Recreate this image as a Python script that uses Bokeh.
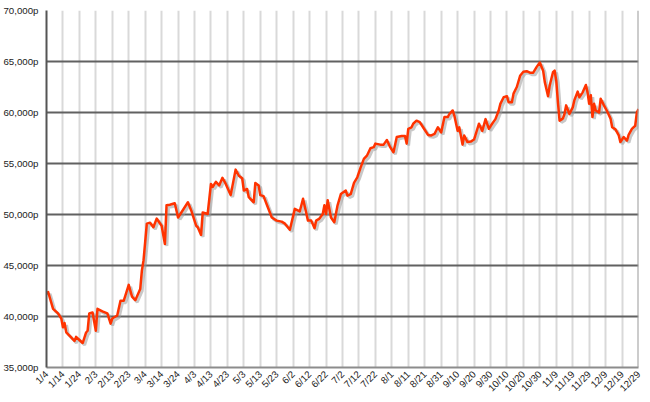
from bokeh.plotting import figure
from bokeh.models import ColumnDataSource, FixedTicker, Range1d, Span
from bokeh.transform import dodge
from bokeh.embed import file_html
from bokeh.resources import INLINE

# day offset from 1/4 and price (p)
days = [0, 1, 4, 7, 9, 10, 11, 12, 15, 17, 18, 20, 22, 24, 25, 26, 28, 30, 31, 34,
        37, 39, 40, 43, 45, 47, 50, 52, 54, 57, 58, 59, 61, 63, 65, 67, 70, 72, 73, 75,
        78, 80, 82, 86, 88, 91, 92, 94, 95, 98, 100, 101, 103, 105, 107, 109, 112, 115, 117, 119,
        120, 122, 123, 126, 127, 129, 130, 132, 134, 137, 140, 143, 145, 148, 151, 154, 156, 159, 161, 163,
        164, 166, 168, 169, 170, 171, 173, 175, 177, 179, 182, 183, 185, 187, 189, 191, 193, 195, 197, 199,
        200, 203, 205, 207, 209, 211, 213, 216, 218, 219, 220, 222, 223, 225, 227, 229, 232, 234, 236, 238,
        240, 242, 244, 245, 247, 248, 250, 251, 253, 254, 256, 258, 260, 263, 265, 267, 269, 271, 273, 275,
        276, 278, 280, 281, 283, 284, 286, 288, 290, 292, 294, 296, 298, 300, 302, 303, 305, 306, 308, 309,
        310, 311, 312, 314, 315, 316, 318, 320, 321, 323, 324, 326, 328, 329, 330, 331, 332, 333, 334, 336,
        337, 339, 341, 343, 344, 346, 348, 349, 351, 353, 354, 356, 358, 359, 360]
prices = [42200, 42400, 40750, 40300, 39800, 38950, 39350, 38450, 37950, 37600, 38000, 37700, 37400, 38400, 38600, 40300, 40400, 38600, 40750, 40500,
          40300, 39300, 39800, 40100, 41550, 41550, 43100, 41950, 41600, 42700, 44500, 45500, 49100, 49200, 48750, 49600, 48900, 47100, 50900, 50950,
          51100, 49700, 50200, 51200, 50400, 48900, 48750, 48000, 50200, 50050, 53000, 52700, 53200, 52850, 53600, 53000, 51900, 54400, 53800, 53550,
          52350, 52500, 51700, 51200, 53100, 52850, 51900, 51800, 50950, 49700, 49400, 49300, 49100, 48500, 50550, 50300, 51550, 49400, 49400, 48650,
          49400, 49600, 50050, 50900, 50050, 51400, 49700, 49250, 50900, 52000, 52350, 51850, 52000, 53100, 53650, 54600, 55450, 55800, 56500, 56600,
          56950, 56850, 56850, 57300, 56600, 56100, 57600, 57700, 57700, 56950, 58400, 58550, 58900, 59200, 59050, 58550, 57800, 57750, 57900, 58550,
          58050, 59550, 59550, 59850, 60200, 59700, 58200, 58550, 56850, 57750, 57100, 57150, 57350, 58900, 58200, 59350, 58400, 58900, 59350, 60200,
          60850, 61500, 61600, 61000, 61000, 61850, 62500, 63600, 64000, 64050, 63900, 63900, 64450, 64900, 64100, 63000, 61600, 62650, 63950, 64100,
          63100, 61000, 59200, 59400, 59850, 60700, 59850, 60500, 61200, 62050, 61500, 61950, 62700, 62000, 60850, 61700, 59550, 60850, 60200, 60000,
          61350, 60700, 60100, 59400, 58550, 58350, 57750, 57100, 57600, 57250, 57800, 58400, 58700, 60000, 60350]

x_ticks = list(range(0, 361, 10))
x_labels = ["1/4", "1/14", "1/24", "2/3", "2/13", "2/23", "3/4", "3/14", "3/24",
            "4/3", "4/13", "4/23", "5/3", "5/13", "5/23", "6/2", "6/12", "6/22",
            "7/2", "7/12", "7/22", "8/1", "8/11", "8/21", "8/31", "9/10", "9/20",
            "9/30", "10/10", "10/20", "10/30", "11/9", "11/19", "11/29", "12/9",
            "12/19", "12/29"]
y_ticks = [35000, 40000, 45000, 50000, 55000, 60000, 65000, 70000]
y_labels = ["35,000p", "40,000p", "45,000p", "50,000p", "55,000p", "60,000p", "65,000p", "70,000p"]

source = ColumnDataSource(dict(day=days, price=prices))

p = figure(width=650, height=402, output_backend="svg", toolbar_location=None,
           x_range=Range1d(0, 360), y_range=Range1d(35000, 70000),
           min_border_left=44, min_border_right=12, min_border_top=10, min_border_bottom=35,
           background_fill_color="white", border_fill_color="white")
p.outline_line_color = None

# axes
p.xaxis.ticker = FixedTicker(ticks=x_ticks)
p.xaxis.major_label_overrides = {t: l for t, l in zip(x_ticks, x_labels)}
p.xaxis.major_label_orientation = 0.785
p.xaxis.major_label_text_font = "Liberation Sans"
p.xaxis.major_label_text_font_size = "9.7px"
p.xaxis.major_label_text_color = "#222222"
p.xaxis.major_label_standoff = 5
p.xaxis.major_tick_out = 0
p.xaxis.major_tick_in = 0
p.xaxis.minor_tick_line_color = None
p.xaxis.axis_line_color = "#8c8c8c"
p.xaxis.axis_line_width = 2

p.yaxis.ticker = FixedTicker(ticks=y_ticks)
p.yaxis.major_label_overrides = {t: l for t, l in zip(y_ticks, y_labels)}
p.yaxis.major_label_text_font = "Liberation Sans"
p.yaxis.major_label_text_font_size = "9.7px"
p.yaxis.major_label_text_color = "#222222"
p.yaxis.major_label_standoff = 8
p.yaxis.major_tick_out = 0
p.yaxis.major_tick_in = 0
p.yaxis.minor_tick_line_color = None
p.yaxis.axis_line_color = "#555555"
p.yaxis.axis_line_width = 2

# grids
p.xgrid.grid_line_color = "#d9d9d9"
p.xgrid.grid_line_width = 2
p.ygrid.grid_line_color = "#616161"
p.ygrid.grid_line_width = 2

# right border
p.add_layout(Span(location=x_ticks[-1], dimension="height", line_color="#9a9a9a", line_width=2))

# shadow and line
p.line(x=dodge("day", 1.2), y=dodge("price", -190), source=source,
       line_color="#9a9a9a", line_alpha=0.55, line_width=3)
p.line(x="day", y="price", source=source, line_color="#ff3300", line_width=2.5,
       line_join="round")

open("out.html", "w").write(file_html(p, INLINE))
